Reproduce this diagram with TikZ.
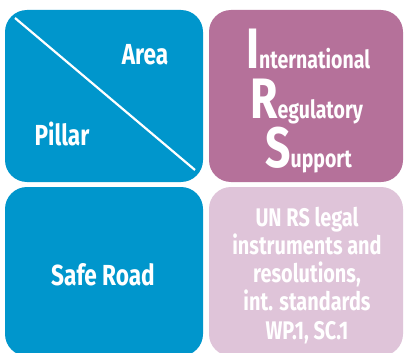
\documentclass[tikz,border=0pt]{standalone}
\usepackage{fontspec}
\setmainfont{Fira Sans}[FakeStretch=0.78]
\definecolor{pblue}{RGB}{0,150,204}
\definecolor{ppurple}{RGB}{181,113,154}
\definecolor{ppink}{RGB}{223,196,217}
\tikzset{
  lbl/.style={text=white, font=\bfseries\fontsize{29}{30}\selectfont, inner sep=0pt},
  irs/.style={text=white, inner sep=0pt, anchor=base west},
}
\newcommand{\initl}[1]{{\bfseries\fontsize{57}{57}\selectfont #1}}
\newcommand{\restw}[1]{{\bfseries\fontsize{25}{25}\selectfont #1}}
\begin{document}
\begin{tikzpicture}[x=1pt,y=-1pt]
\useasboundingbox (0,0) rectangle (404,353);
\fill[white] (0,0) rectangle (404,353);
\begin{scope}
\clip (0,0) rectangle (404,353);
\fill[pblue, rounded corners=22pt] (5,10) rectangle (203,182);
\fill[ppurple, rounded corners=22pt] (209,10) rectangle (403,182);
\fill[pblue, rounded corners=22pt] (5,187) rectangle (203,356);
\fill[ppink, rounded corners=22pt] (209,187) rectangle (403,356);
\end{scope}
\coordinate (d1) at (15,18);
\coordinate (d2) at (195,170);
\draw[white, line width=2.2pt] (d1) -- (d2);
\node[lbl, anchor=base] (area) at (145,65) {Area};
\node[lbl, anchor=base] (pillar) at (62,145) {Pillar};
\node[lbl] (safe) at (103,275) {Safe Road};
\node[irs] (i1) at (246,68) {\initl{I}\restw{nternational}};
\node[irs] (i2) at (250,118) {\initl{R}\restw{egulatory}};
\node[irs] (i3) at (265,167) {\initl{S}\restw{upport}};
\node[text=white, font=\bfseries\fontsize{25.5}{28.3}\selectfont, align=center, inner sep=0pt, anchor=north] (un) at (307,206.5)
  {UN RS legal\\instruments and\\resolutions,\\int. standards\\WP.1, SC.1};
\end{tikzpicture}
\end{document}
